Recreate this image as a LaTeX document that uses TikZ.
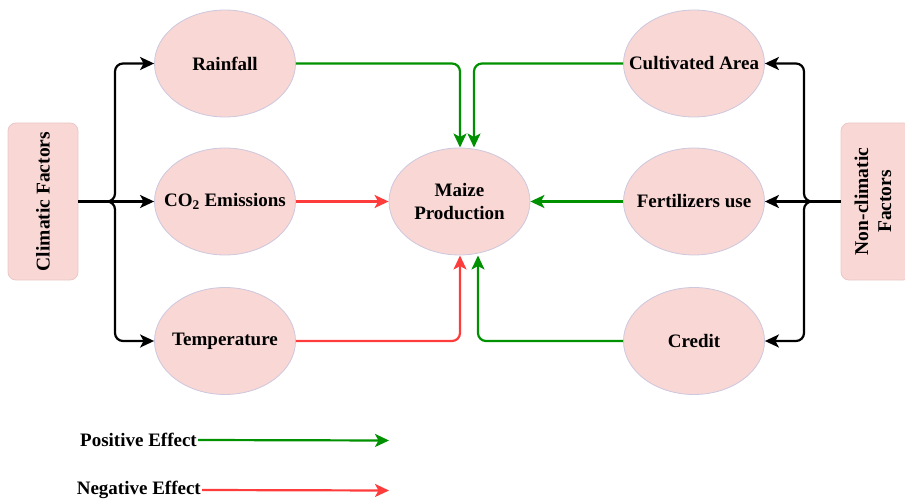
\documentclass[tikz,border=0pt]{standalone}
\usepackage{fontspec}
\setmainfont{Liberation Serif}
\usetikzlibrary{shapes.geometric,arrows.meta}
\definecolor{pinkfill}{RGB}{248,215,212}
\definecolor{ellborder}{RGB}{205,200,222}
\definecolor{boxborder}{RGB}{235,200,200}
\definecolor{posgreen}{RGB}{0,145,0}
\definecolor{negred}{RGB}{255,60,60}
\tikzset{
  factor/.style={ellipse, fill=pinkfill, draw=ellborder, line width=0.8pt, minimum width=141pt, minimum height=107pt, inner sep=0pt},
  factortext/.style={font=\fontsize{19}{23}\selectfont\bfseries, align=center, inner sep=0pt},
  groupbox/.style={rectangle, rounded corners=8pt, fill=pinkfill, draw=boxborder, line width=0.8pt, inner sep=0pt},
  grouplabel/.style={font=\fontsize{19.5}{23}\selectfont\bfseries, align=center, rotate=90},
  tip/.style={-{Stealth[length=14pt,width=13pt,inset=3.5pt]}},
  blackarrow/.style={tip, draw=black, line width=2.2pt, rounded corners=8pt},
  posarrow/.style={tip, draw=posgreen, line width=2.2pt, rounded corners=8pt},
  negarrow/.style={tip, draw=negred, line width=2.2pt, rounded corners=8pt},
  legendtext/.style={font=\fontsize{19}{23}\selectfont\bfseries, anchor=east, inner sep=1pt}
}
\begin{document}
\begin{tikzpicture}[x=1pt,y=-1pt]
\useasboundingbox (0,0) rectangle (905,500);
% group boxes
\node[groupbox, minimum width=70pt, minimum height=157pt] (clim) at (43,201.5) {};
\node[grouplabel] (climtext) at (clim.center) {Climatic Factors};
\node[groupbox, minimum width=70pt, minimum height=157pt] (nonclim) at (876,201.5) {};
\node[grouplabel] (nonclimtext) at (873,201.5) {Non-climatic\\Factors};
% ellipses
\node[factor] (rain) at (225,63.5) {};
\node[factortext] (raint) at (rain) {Rainfall};
\node[factor] (co2) at (225,201.5) {};
\node[factortext] (co2t) at (co2) {CO\textsubscript{2} Emissions};
\node[factor] (temp) at (225,341) {};
\node[factortext] (tempt) at (temp) {Temperature};
\node[factor] (maize) at (459.5,201.5) {};
\node[factortext] (maizet) at (maize) {Maize\\[0pt]Production};
\node[factor] (cult) at (694,63.5) {};
\node[factortext] (cultt) at (cult) {Cultivated Area};
\node[factor] (fert) at (694,201.5) {};
\node[factortext] (fertt) at (fert) {Fertilizers use};
\node[factor] (cred) at (694,341) {};
\node[factortext] (credt) at (cred) {Credit};
% coordinates
\coordinate (lj) at (115,201.5);
\coordinate (rj) at (804,201.5);
% left black brace arrows
\draw[blackarrow] (clim.east) -- (lj) |- (rain.west);
\draw[blackarrow] (clim.east) -- (lj) |- (temp.west);
\draw[blackarrow, rounded corners=0pt] (clim.east) -- (co2.west);
% right black brace arrows
\draw[blackarrow] (nonclim.west) -- (rj) |- (cult.east);
\draw[blackarrow] (nonclim.west) -- (rj) |- (cred.east);
\draw[blackarrow, rounded corners=0pt] (nonclim.west) -- (fert.east);
% effects
\draw[posarrow] (rain.east) -| (460,147.5);
\draw[posarrow] (cult.west) -| (474,147.5);
\draw[negarrow] (co2.east) -- (maize.west);
\draw[posarrow] (fert.west) -- (maize.east);
\draw[negarrow] (temp.east) -| (460,255.5);
\draw[posarrow] (cred.west) -| (478,255.5);
% legend
\node[legendtext] (pos) at (198,440) {Positive Effect};
\coordinate (posend) at (389,440.5);
\draw[posarrow] (pos.east) -- (posend);
\node[legendtext] (neg) at (202,490) {Negative Effect};
\coordinate (negend) at (389,490.5);
\draw[negarrow] (neg.east) -- (negend);
\end{tikzpicture}
\end{document}
